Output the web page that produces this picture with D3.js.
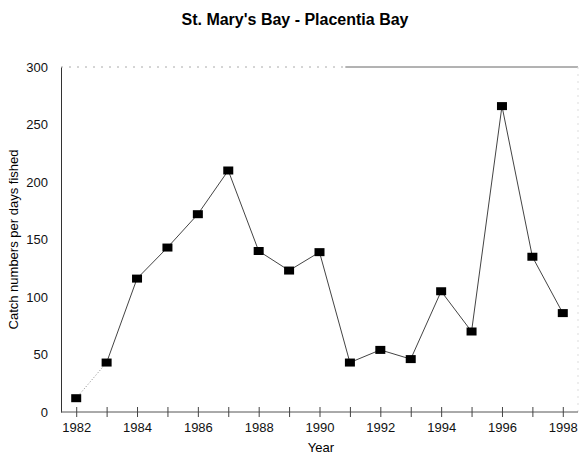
<!DOCTYPE html>
<html>
<head>
<meta charset="utf-8">
<script src="https://cdn.jsdelivr.net/npm/d3@7"></script>
<style>
  body { margin: 0; background: #fff; }
  text { font-family: "Liberation Sans", Arial, sans-serif; }
</style>
</head>
<body>
<svg id="chart" width="580" height="457"></svg>
<script>
// data
var years = [1982, 1983, 1984, 1985, 1986, 1987, 1988, 1989, 1990, 1991, 1992, 1993, 1994, 1995, 1996, 1997, 1998];
var catchRate = [12, 43, 116, 143, 172, 210, 140, 123, 139, 43, 54, 46, 105, 70, 266, 135, 86];
var yTicks = [0, 50, 100, 150, 200, 250, 300];
var xTicks = [1982, 1984, 1986, 1988, 1990, 1992, 1994, 1996, 1998];

var svg = d3.select("#chart"),
    margin = {top: 67, right: 2, bottom: 45, left: 61},
    width = +svg.attr("width") - margin.left - margin.right,
    height = +svg.attr("height") - margin.top - margin.bottom,
    g = svg.append("g").attr("transform", "translate(" + margin.left + "," + margin.top + ")");

var x = d3.scaleLinear().domain([1981.5, 1998.5]).range([0, width]);
var y = d3.scaleLinear().domain([0, 300]).range([height, 0]);

var data = years.map(function(d, i) { return {year: d, value: catchRate[i]}; });

// frame (faint, broken like the scan)
g.append("line").attr("x1", 0).attr("x2", width * 0.55).attr("y1", 0).attr("y2", 0)
    .attr("stroke", "#aaa").attr("stroke-width", 1).attr("stroke-dasharray", "2,6");
g.append("line").attr("x1", width * 0.55).attr("x2", width).attr("y1", 0).attr("y2", 0)
    .attr("stroke", "#666").attr("stroke-width", 1);
g.append("line").attr("x1", width).attr("x2", width).attr("y1", 0).attr("y2", height)
    .attr("stroke", "#ddd").attr("stroke-width", 1).attr("stroke-dasharray", "2,5");

// y axis
var yAxis = g.append("g")
    .call(d3.axisLeft(y).tickValues(yTicks).tickSize(0).tickPadding(13));
yAxis.select(".domain").attr("stroke", "#333");
yAxis.selectAll("text").attr("font-size", 13).attr("fill", "#111");

// x axis, ticks crossing the line
var xAxis = g.append("g")
    .attr("transform", "translate(0," + height + ")")
    .call(d3.axisBottom(x).tickValues(years).tickSize(5).tickPadding(4)
        .tickFormat(function(d) { return xTicks.indexOf(d) >= 0 ? d : ""; }));
xAxis.select(".domain").attr("stroke", "#555").attr("d", "M0,0H" + width);
xAxis.selectAll(".tick line").attr("y1", -5).attr("stroke", "#444");
xAxis.selectAll("text").attr("font-size", 13).attr("fill", "#111").attr("dy", "0.85em");

// line
var line = d3.line()
    .x(function(d) { return x(d.year); })
    .y(function(d) { return y(d.value); });

g.append("path")
    .datum(data.slice(0, 2))
    .attr("fill", "none").attr("stroke", "#888").attr("stroke-width", 1)
    .attr("stroke-dasharray", "1,2")
    .attr("d", line);

g.append("path")
    .datum(data.slice(1))
    .attr("fill", "none").attr("stroke", "#444").attr("stroke-width", 1)
    .attr("d", line);

// markers
g.selectAll(".pt")
    .data(data)
  .enter().append("rect")
    .attr("x", function(d) { return x(d.year) - 5; })
    .attr("y", function(d) { return y(d.value) - 4; })
    .attr("width", 10).attr("height", 8)
    .attr("fill", "#000");

// titles
svg.append("text")
    .attr("x", 295).attr("y", 25)
    .attr("text-anchor", "middle")
    .attr("font-size", 16).attr("font-weight", "bold")
    .text("St. Mary's Bay - Placentia Bay");

svg.append("text")
    .attr("x", 321).attr("y", 452)
    .attr("text-anchor", "middle")
    .attr("font-size", 13)
    .text("Year");

svg.append("text")
    .attr("transform", "translate(18," + (margin.top + height / 2) + ") rotate(-90)")
    .attr("text-anchor", "middle")
    .attr("font-size", 13)
    .text("Catch numbers per days fished");
</script>
</body>
</html>
